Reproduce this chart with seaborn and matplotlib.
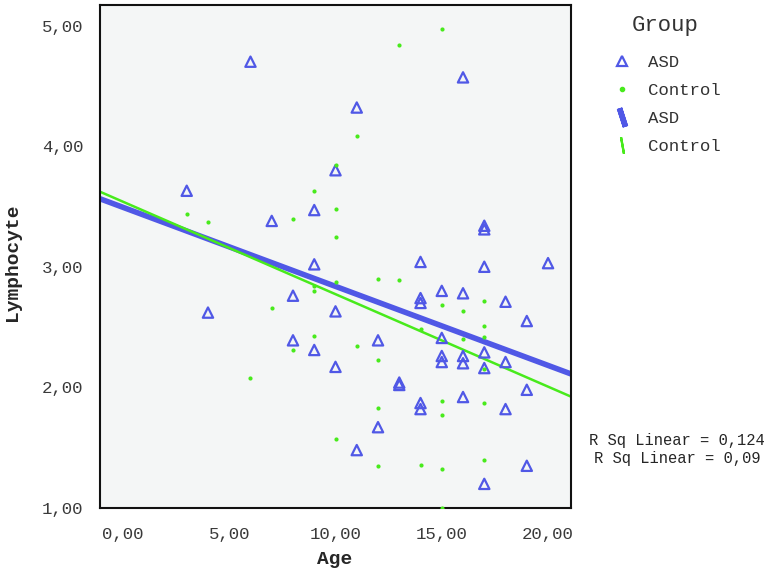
import numpy as np
import pandas as pd
import matplotlib
matplotlib.use("Agg")
import matplotlib.pyplot as plt
import seaborn as sns
from matplotlib.lines import Line2D
from matplotlib.ticker import FuncFormatter

# ASD group: age and lymphocyte values
asd_age = [3, 4, 6, 7, 8, 8, 9, 9, 9, 10, 10, 10, 11, 11, 12, 12, 13, 13,
           14, 14, 14, 14, 14, 15, 15, 15, 15, 16, 16, 16, 16, 16,
           17, 17, 17, 17, 17, 17, 18, 18, 18, 19, 19, 19, 20]
asd_lymph = [3.63, 2.62, 4.70, 3.38, 2.76, 2.39, 3.47, 3.02, 2.31, 3.80, 2.63, 2.17,
             4.32, 1.48, 2.39, 1.67, 2.04, 2.02, 3.04, 2.74, 2.70, 1.87, 1.82,
             2.80, 2.41, 2.26, 2.21, 4.57, 2.78, 2.26, 2.20, 1.92,
             3.34, 3.31, 3.00, 2.29, 2.16, 1.20, 2.71, 2.21, 1.82, 2.55, 1.98, 1.35, 3.03]

# Control group
ctrl_age = [3, 4, 6, 7, 8, 8, 9, 9, 9, 9, 10, 10, 10, 10, 10, 11, 11,
            12, 12, 12, 12, 13, 13, 14, 14, 15, 15, 15, 15, 15, 15,
            16, 16, 17, 17, 17, 17, 17, 17]
ctrl_lymph = [3.44, 3.37, 2.08, 2.66, 3.40, 2.31, 3.63, 2.84, 2.80, 2.43,
              3.84, 3.48, 3.25, 2.87, 1.57, 4.08, 2.34,
              2.90, 2.23, 1.83, 1.35, 4.84, 2.89, 2.48, 1.36,
              4.97, 2.68, 1.89, 1.77, 1.32, 1.00,
              2.63, 2.40, 2.72, 2.51, 2.42, 2.15, 1.87, 1.40]

rsq_labels = ["R Sq Linear = 0,124", "R Sq Linear = 0,09"]

blue = "#5058e6"
green = "#48ea1c"
mono = ["Liberation Mono", "DejaVu Sans Mono"]

df_asd = pd.DataFrame({"Age": asd_age, "Lymphocyte": asd_lymph})
df_ctrl = pd.DataFrame({"Age": ctrl_age, "Lymphocyte": ctrl_lymph})

sns.set_style("white")
plt.rcParams["font.family"] = mono

fig = plt.figure(figsize=(7.67, 5.75), dpi=100)
ax = fig.add_axes([100 / 767, 1 - 508 / 575, 471 / 767, 503 / 575])
ax.set_facecolor("#f4f6f6")
ax.set_xlim(-1.08, 21.08)
ax.set_ylim(1.0, 5.17)

# scatter + fit lines (truncate=False so the line spans the axis)
sns.regplot(data=df_asd, x="Age", y="Lymphocyte", ax=ax, ci=None, truncate=False,
            marker="^", scatter_kws=dict(s=55, facecolors="none", edgecolors=blue,
                                          linewidths=1.6, alpha=1, zorder=3),
            line_kws=dict(color=blue, lw=4, zorder=2))
sns.regplot(data=df_ctrl, x="Age", y="Lymphocyte", ax=ax, ci=None, truncate=False,
            marker="o", scatter_kws=dict(s=9, color=green, linewidths=0, alpha=1, zorder=4),
            line_kws=dict(color=green, lw=1.8, zorder=2))
ax.set_xlim(-1.08, 21.08)
ax.set_ylim(1.0, 5.17)

ax.set_xticks([0, 5, 10, 15, 20])
ax.set_yticks([1, 2, 3, 4, 5])
comma = FuncFormatter(lambda v, p: f"{v:.2f}".replace(".", ","))
ax.xaxis.set_major_formatter(comma)
ax.yaxis.set_major_formatter(comma)
ax.tick_params(axis="both", direction="out", length=8, width=1.8, color="#111111",
               labelsize=12.5, labelcolor="#3a3a3a", pad=4)
ax.tick_params(axis="x", pad=6)
for s in ax.spines.values():
    s.set_color("#111111")
    s.set_linewidth(1.5)

ax.set_xlabel("Age", fontsize=14, fontweight="bold", va="center")
ax.set_ylabel("Lymphocyte", fontsize=14, fontweight="bold", va="center")
ax.xaxis.set_label_coords((335 - 100) / 471, (508 - 560) / 503)
ax.yaxis.set_label_coords((13 - 100) / 471, (508 - 262) / 503)

handles = [
    Line2D([], [], ls="none", marker="^", markersize=7, markerfacecolor="none",
           markeredgecolor=blue, markeredgewidth=1.6),
    Line2D([], [], ls="none", marker="o", markersize=3, color=green),
    Line2D([], [], ls="none", marker=(2, 2, 18), markersize=14,
           markeredgewidth=4, color=blue),
    Line2D([], [], ls="none", marker=(2, 2, 10), markersize=12,
           markeredgewidth=1.6, color=green),
]
fig.text(665 / 767, 1 - 25 / 575, "Group", ha="center", va="center", fontsize=16,
         color="#333333")
fig.legend(handles, ["ASD", "Control", "ASD", "Control"],
           loc="upper left", bbox_to_anchor=(596 / 767, 1 - 39 / 575),
           frameon=False, fontsize=12.5, labelcolor="#333333",
           handlelength=1.2, handletextpad=0.9, labelspacing=0.74)

fig.text(677 / 767, 1 - 441 / 575, rsq_labels[0], ha="center", va="center", fontsize=11.2)
fig.text(677 / 767, 1 - 458 / 575, rsq_labels[1], ha="center", va="center", fontsize=11.2)

fig.savefig("out.png", dpi=100)
